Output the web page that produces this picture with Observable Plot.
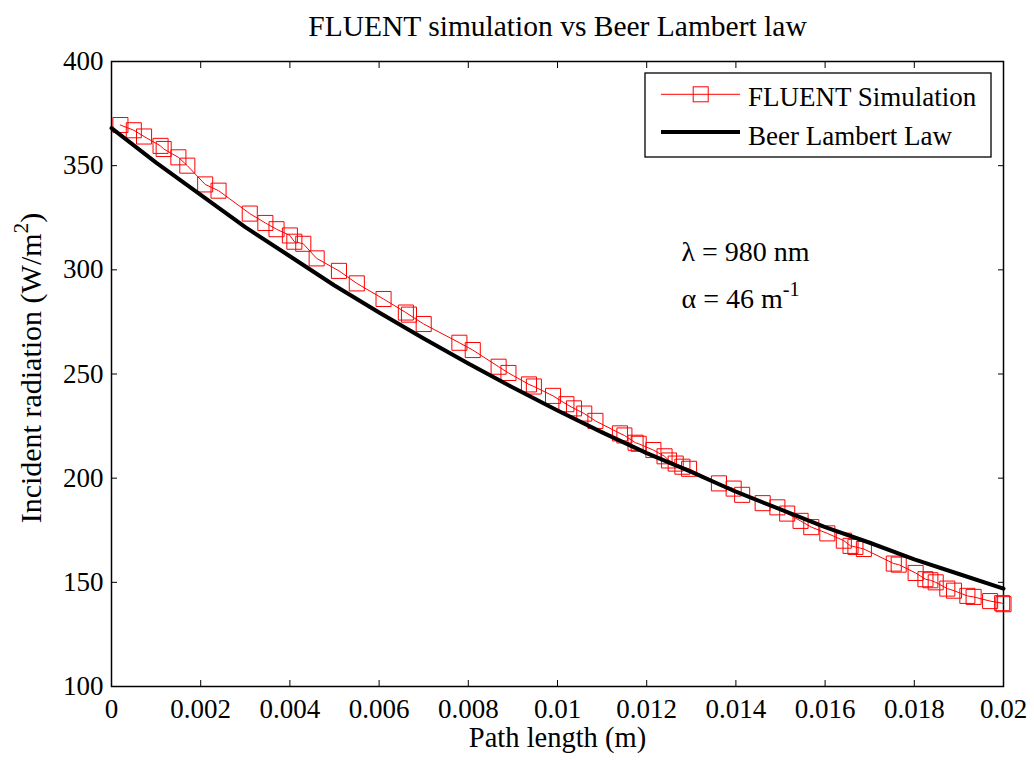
<!DOCTYPE html>
<html><head><meta charset="utf-8">
<script src="https://cdn.jsdelivr.net/npm/d3@7"></script>
<script src="https://cdn.jsdelivr.net/npm/@observablehq/plot@0.6"></script>
<style>body{margin:0;background:#fff}#chart{width:1034px;height:760px}</style>
</head><body><div id="chart"></div><script>
// ---- data ----
const fluentX = [0.0002,0.0005,0.00073,0.0011,0.00117,0.0015,0.0017,0.0021,0.0024,0.0031,0.00345,0.0037,0.0040,0.0041,0.0043,0.0046,0.0051,0.0055,0.0061,0.0066,0.00667,0.0070,0.0078,0.0081,0.00868,0.0089,0.00936,0.00947,0.0099,0.0102,0.01037,0.0106,0.01085,0.0114,0.0115,0.01175,0.01182,0.01215,0.0124,0.0125,0.01265,0.0128,0.01295,0.01362,0.01395,0.01414,0.0146,0.01493,0.01515,0.01545,0.01569,0.01605,0.01642,0.01657,0.01668,0.01687,0.01754,0.01765,0.01803,0.01825,0.01836,0.01848,0.01874,0.01889,0.01919,0.01933,0.0197,0.01997,0.0200];
const fluentY = [369.5,367,364,359.5,358,354,350,341,338,327,322.5,319.5,316.5,313.5,312.5,305.5,299.5,293.5,286,279.5,278.5,274,265,261.5,253.5,250.5,245,244,239.5,235.5,233.5,231,227.5,221.5,220.5,217,216.5,213.5,210.5,208.5,207,205.5,204.5,197.5,195,192,188,186,183,179.5,176.5,173.5,170,167.5,167,166,159,158.5,154.5,151.5,151,150,147,146,143.5,143,141,140,139.5];
const beerX = [0,0.001,0.002,0.003,0.004,0.005,0.006,0.007,0.008,0.009,0.010,0.011,0.012,0.013,0.014,0.015,0.016,0.017,0.018,0.019,0.020];
const beerY = [368,351.5,336,320.5,306.5,292.5,279.5,267,255,243.5,232.5,222,212,203,193.5,185,176.5,169,161,154,147];
const xTicks = [0,0.002,0.004,0.006,0.008,0.01,0.012,0.014,0.016,0.018,0.02];
const xTickLabels = ["0","0.002","0.004","0.006","0.008","0.01","0.012","0.014","0.016","0.018","0.02"];
const yTicks = [100,150,200,250,300,350,400];
const seriesNames = ["FLUENT Simulation","Beer Lambert Law"];
const titleText = "FLUENT simulation vs Beer Lambert law";
const xLabel = "Path length (m)";
const yLabel = "Incident radiation (W/m^{2})";
const notes = ["λ = 980 nm","α = 46 m^{-1}"];

const fluent = fluentX.map((x,i)=>({x, y: fluentY[i]}));
const beer = beerX.map((x,i)=>({x, y: beerY[i]}));

const font = "'Liberation Serif', 'Times New Roman', serif";

const chart = Plot.plot({
  width:1034, height:760,
  marginLeft:111, marginRight:31, marginTop:61, marginBottom:74,
  style:{fontFamily:font, fontSize:"26px", color:"black", background:"white"},
  x:{domain:[0,0.02]},
  y:{domain:[100,400]},
  marks:[
    Plot.axisX(xTicks, {anchor:"bottom", tickSize:-6, tickPadding:18, tickFormat:d=>xTickLabels[xTicks.indexOf(d)], label:null, fontSize:27, fontFamily:font, fontVariant:"normal"}),
    Plot.axisX(xTicks, {anchor:"top", tickSize:-6, tickFormat:()=>"", label:null}),
    Plot.axisY(yTicks, {anchor:"left", tickSize:-6, tickPadding:14, tickFormat:d=>String(d), label:null, fontSize:27, fontFamily:font, fontVariant:"normal"}),
    Plot.axisY(yTicks, {anchor:"right", tickSize:-6, tickFormat:()=>"", label:null}),
    Plot.frame({stroke:"black", strokeWidth:1.5}),
    Plot.line(fluent, {x:"x", y:"y", stroke:"red", strokeWidth:1}),
    Plot.dot(fluent, {x:"x", y:"y", symbol:"square", r:8.5, stroke:"red", fill:"none", strokeWidth:1}),
    Plot.line(beer, {x:"x", y:"y", stroke:"black", strokeWidth:4}),
    Plot.text([notes[0]], {x:0.01278, y:308.6, textAnchor:"start", lineAnchor:"middle", fontSize:28, fontFamily:font}),
    Plot.text([notes[1]], {x:0.01278, y:286.2, textAnchor:"start", lineAnchor:"middle", fontSize:28, fontFamily:font}),
    Plot.text([titleText], {frameAnchor:"top", lineAnchor:"middle", textAnchor:"middle", dy:-34.6, fontSize:29.5, fontFamily:font}),
    Plot.text([xLabel], {frameAnchor:"bottom", lineAnchor:"middle", textAnchor:"middle", dy:51, fontSize:28.5, fontFamily:font}),
    Plot.text([yLabel], {frameAnchor:"left", lineAnchor:"middle", textAnchor:"middle", rotate:-90, dx:-80.5, dy:-6, fontSize:30, fontFamily:font})
  ]
});

// superscripts written as ^{...}
const ns = "http://www.w3.org/2000/svg";
chart.querySelectorAll("text").forEach(t => {
  const s = t.textContent;
  const m = s.match(/^(.*)\^\{([^}]*)\}(.*)$/);
  if (!m) return;
  let fs = parseFloat(t.getAttribute("font-size"));
  if (!fs) { const g = t.closest("[font-size]"); fs = g ? parseFloat(g.getAttribute("font-size")) : 28; }
  const shift = 0.42 * fs;
  t.textContent = "";
  const a = document.createElementNS(ns, "tspan"); a.textContent = m[1]; t.appendChild(a);
  const b = document.createElementNS(ns, "tspan"); b.textContent = m[2];
  b.setAttribute("dy", -shift); b.setAttribute("font-size", (0.72*fs).toFixed(1)); t.appendChild(b);
  if (m[3]) { const c = document.createElementNS(ns, "tspan"); c.textContent = m[3]; c.setAttribute("dy", shift); t.appendChild(c); }
});

document.getElementById("chart").appendChild(chart);

// legend
const svg = d3.select(chart);
const lg = svg.append("g").attr("font-family", font).attr("font-size", 27).attr("text-anchor","start");
lg.append("rect").attr("x",645).attr("y",73).attr("width",346).attr("height",84)
  .attr("fill","white").attr("stroke","black").attr("stroke-width",1.3);
lg.append("line").attr("x1",661).attr("x2",740).attr("y1",94.3).attr("y2",94.3).attr("stroke","red").attr("stroke-width",1);
lg.append("rect").attr("x",700.7-7.5).attr("y",94.3-7.5).attr("width",15).attr("height",15).attr("fill","none").attr("stroke","red");
lg.append("text").attr("x",748).attr("y",106).attr("font-size",27).attr("text-anchor","start").text(seriesNames[0]);
lg.append("line").attr("x1",661).attr("x2",740).attr("y1",132).attr("y2",132).attr("stroke","black").attr("stroke-width",4);
lg.append("text").attr("x",748).attr("y",145).attr("font-size",27).attr("text-anchor","start").text(seriesNames[1]);
</script></body></html>
